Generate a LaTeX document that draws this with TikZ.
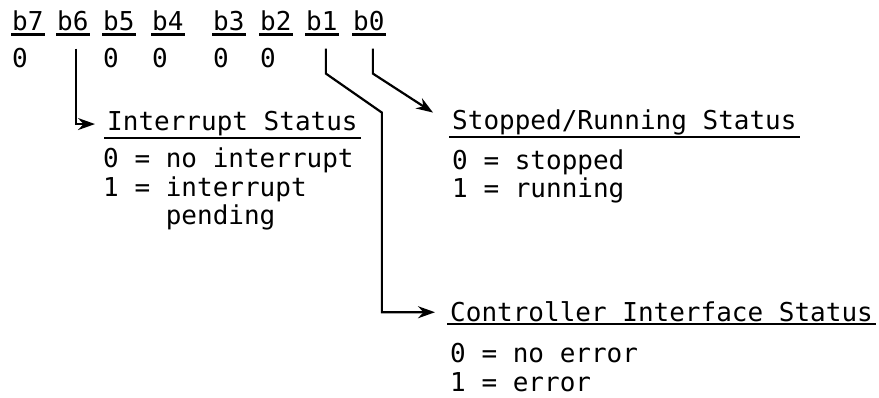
\documentclass[tikz,border=0pt]{standalone}
\usepackage{fontspec}
\setmonofont{DejaVu Sans Mono}
\usetikzlibrary{arrows.meta,positioning}

\begin{document}
\begin{tikzpicture}[
      x=1pt, y=-1pt,
      txt/.style  = {font=\ttfamily\fontsize{26}{28.5}\selectfont,
                     anchor=base west, inner sep=0pt},
      bit/.style  = {txt, inner xsep=1pt, inner ysep=3pt},
      head/.style = {txt, inner xsep=3pt, inner ysep=1.5pt},
      body/.style = {txt, align=left},
      rule/.style = {line width=2.2pt},
      arr/.style  = {-{Stealth[length=17pt, width=12pt]}, line width=2.2pt},
    ]
    \useasboundingbox (0,0) rectangle (879,398);

    % ---- bit row ----
    \foreach \b/\x in {7/11, 6/56, 5/102, 4/151, 3/212, 2/259, 1/305, 0/352} {
      \node[bit] (b\b) at (\x,31) {b\b};
      \draw[rule] (b\b.south west) -- (b\b.south east);
    }
    \foreach \b in {7,5,4,3,2}
      \node[bit] (v\b) at ([yshift=-37pt]b\b.base west) {0};

    % ---- status fields ----
    \node[head] (intr) at (104,131) {Interrupt Status};
    \node[head] (stop) at (449,130) {Stopped/Running Status};
    \node[head] (ctrl) at (447,322) {Controller Interface Status};
    \foreach \n in {intr,stop,ctrl}
      \draw[rule] (\n.south west) -- (\n.south east);

    % base of a multi-line node is its last line
    \node[body] (intrv) at (103,225) {0 = no interrupt\\1 = interrupt\\\phantom{1 = }pending};
    \node[body] (stopv) at (452,198) {0 = stopped\\1 = running};
    \node[body] (ctrlv) at (450,391) {0 = no error\\1 = error};

    % ---- connectors ----
    \draw[arr, shorten >=9pt] ([xshift=3pt,yshift=-14pt]b6.south) |- (intr.west);
    \draw[arr, shorten >=19pt] ([xshift=4pt,yshift=-14pt]b0.south) -- ++(0,25) -- (stop.west);
    \draw[arr, shorten >=12pt] ([xshift=4pt,yshift=-14pt]b1.south) -- ++(0,25) -- ++(56,39) |- (ctrl.west);
\end{tikzpicture}
\end{document}
